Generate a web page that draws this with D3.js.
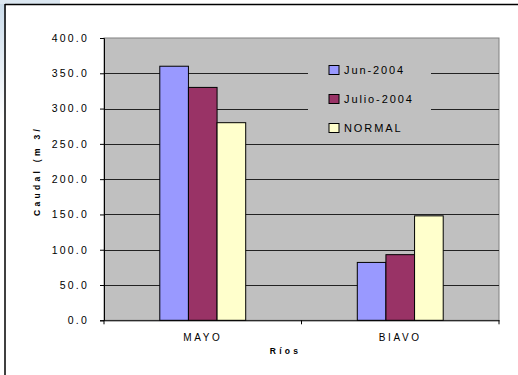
<!DOCTYPE html>
<html><head><meta charset="utf-8">
<script src="https://cdn.jsdelivr.net/npm/d3@7"></script>
<style>html,body{margin:0;padding:0;background:#fff;}svg{display:block;}</style>
</head><body>
<script>
const categories = ["MAYO", "BIAVO"];
const seriesNames = ["Jun-2004", "Julio-2004", "NORMAL"];
const seriesColors = ["#9999FF", "#993366", "#FFFFCC"];
const junValues = [360, 82];
const julioValues = [330, 93];
const normalValues = [280, 148];
const yTicks = [0, 50, 100, 150, 200, 250, 300, 350, 400];
const yTitle = "Caudal (m 3/s)";
const xTitle = "Ríos";

const seriesValues = [junValues, julioValues, normalValues];
const W = 518, H = 375;
const svg = d3.select("body").append("svg").attr("width", W).attr("height", H);
const font = "'Liberation Sans', Arial, sans-serif";

// background decoration
const defs = svg.append("defs");
const lg = defs.append("linearGradient").attr("id","bg").attr("x1",0).attr("y1",0).attr("x2",0).attr("y2",1);
lg.append("stop").attr("offset","0%").attr("stop-color","#c9dbea");
lg.append("stop").attr("offset","100%").attr("stop-color","#ffffff");
svg.append("rect").attr("x",0).attr("y",0).attr("width",W).attr("height",H).attr("fill","#fff");
svg.append("rect").attr("x",0).attr("y",0).attr("width",6).attr("height",120).attr("fill","url(#bg)");
svg.append("rect").attr("x",0).attr("y",0).attr("width",60).attr("height",4).attr("fill","#dbe7f1");

// chart border
svg.append("line").attr("x1",5).attr("x2",W).attr("y1",4.5).attr("y2",4.5).attr("stroke","#000").attr("stroke-width",1.5);
svg.append("line").attr("x1",5).attr("x2",5).attr("y1",4).attr("y2",H).attr("stroke","#000").attr("stroke-width",1.5);

const pl = 104, pr = 499, pt = 38, pb = 320.3;
const x = d3.scaleBand().domain(categories).range([pl, pr]).paddingInner(0.565).paddingOuter(0.2825);
const xs = d3.scaleBand().domain(seriesNames).range([0, x.bandwidth()]);
const y = d3.scaleLinear().domain([0, 400]).range([pb, pt]);

// plot area
svg.append("rect").attr("x",pl).attr("y",pt).attr("width",pr-pl).attr("height",pb-pt)
  .attr("fill","#C0C0C0").attr("stroke","#808080").attr("stroke-width",1);

// gridlines
svg.append("g").selectAll("line").data(yTicks.filter(d => d > 0 && d < 400)).join("line")
  .attr("x1",pl).attr("x2",pr).attr("y1",d=>Math.round(y(d))+0.5).attr("y2",d=>Math.round(y(d))+0.5)
  .attr("stroke","#222").attr("stroke-width",1);

// bars
const groups = svg.append("g").selectAll("g").data(categories).join("g")
  .attr("transform", d => `translate(${x(d)},0)`);
groups.selectAll("rect").data((c, ci) => seriesNames.map((s, si) => ({s, si, v: seriesValues[si][ci]})))
  .join("rect")
  .attr("x", d => xs(d.s)).attr("width", xs.bandwidth())
  .attr("y", d => y(d.v)).attr("height", d => y(0) - y(d.v))
  .attr("fill", d => seriesColors[d.si]).attr("stroke","#000").attr("stroke-width",1);

// y axis
const yAxis = d3.axisLeft(y).tickValues(yTicks).tickFormat(d3.format(".1f")).tickSize(4).tickPadding(11);
const yg = svg.append("g").attr("transform",`translate(${pl},0)`).call(yAxis);
yg.select(".domain").attr("stroke","#000");
yg.selectAll(".tick line").attr("stroke","#000");
yg.selectAll(".tick text").attr("font-family",font).attr("font-size","10.5px").attr("fill","#000")
  .attr("letter-spacing","2.2px");

// x axis
const xAxis = d3.axisBottom(x).tickSize(0).tickPadding(14);
const xg = svg.append("g").attr("transform",`translate(0,${pb})`).call(xAxis);
xg.select(".domain").attr("stroke","#000");
xg.selectAll(".tick text").attr("font-family",font).attr("font-size","10px").attr("fill","#000")
  .attr("letter-spacing","2.6px").attr("dy","0.71em");
// category boundary ticks
const bounds = [pl, (pl+pr)/2, pr];
svg.append("g").selectAll("line").data(bounds).join("line")
  .attr("x1",d=>d).attr("x2",d=>d).attr("y1",pb).attr("y2",pb+4).attr("stroke","#000");

// axis titles
svg.append("text").attr("x",269.7).attr("y",353.5).text(xTitle)
  .attr("font-family",font).attr("font-weight","bold").attr("font-size","8.5px").attr("letter-spacing","3.3px");
defs.append("clipPath").attr("id","tclip").append("rect").attr("x",0).attr("y",129).attr("width",100).attr("height",200);
svg.append("g").attr("clip-path","url(#tclip)").append("text")
  .attr("transform","translate(39.5,216) rotate(-90)").text(yTitle)
  .attr("font-family",font).attr("font-weight","bold").attr("font-size","8.5px").attr("letter-spacing","3.3px");

// legend
const leg = svg.append("g");
leg.append("rect").attr("x",308).attr("y",55).attr("width",123).attr("height",84).attr("fill","#C0C0C0");
const items = leg.selectAll("g").data(seriesNames).join("g")
  .attr("transform",(d,i)=>`translate(329,${65.5 + i*29})`);
items.append("rect").attr("width",10).attr("height",9).attr("fill",(d,i)=>seriesColors[i]).attr("stroke","#000");
items.append("text").attr("x",15).attr("y",8.3).text(d=>d)
  .attr("font-family",font).attr("font-size","11px").attr("letter-spacing","1.9px").attr("fill","#000");
</script>
</body></html>
